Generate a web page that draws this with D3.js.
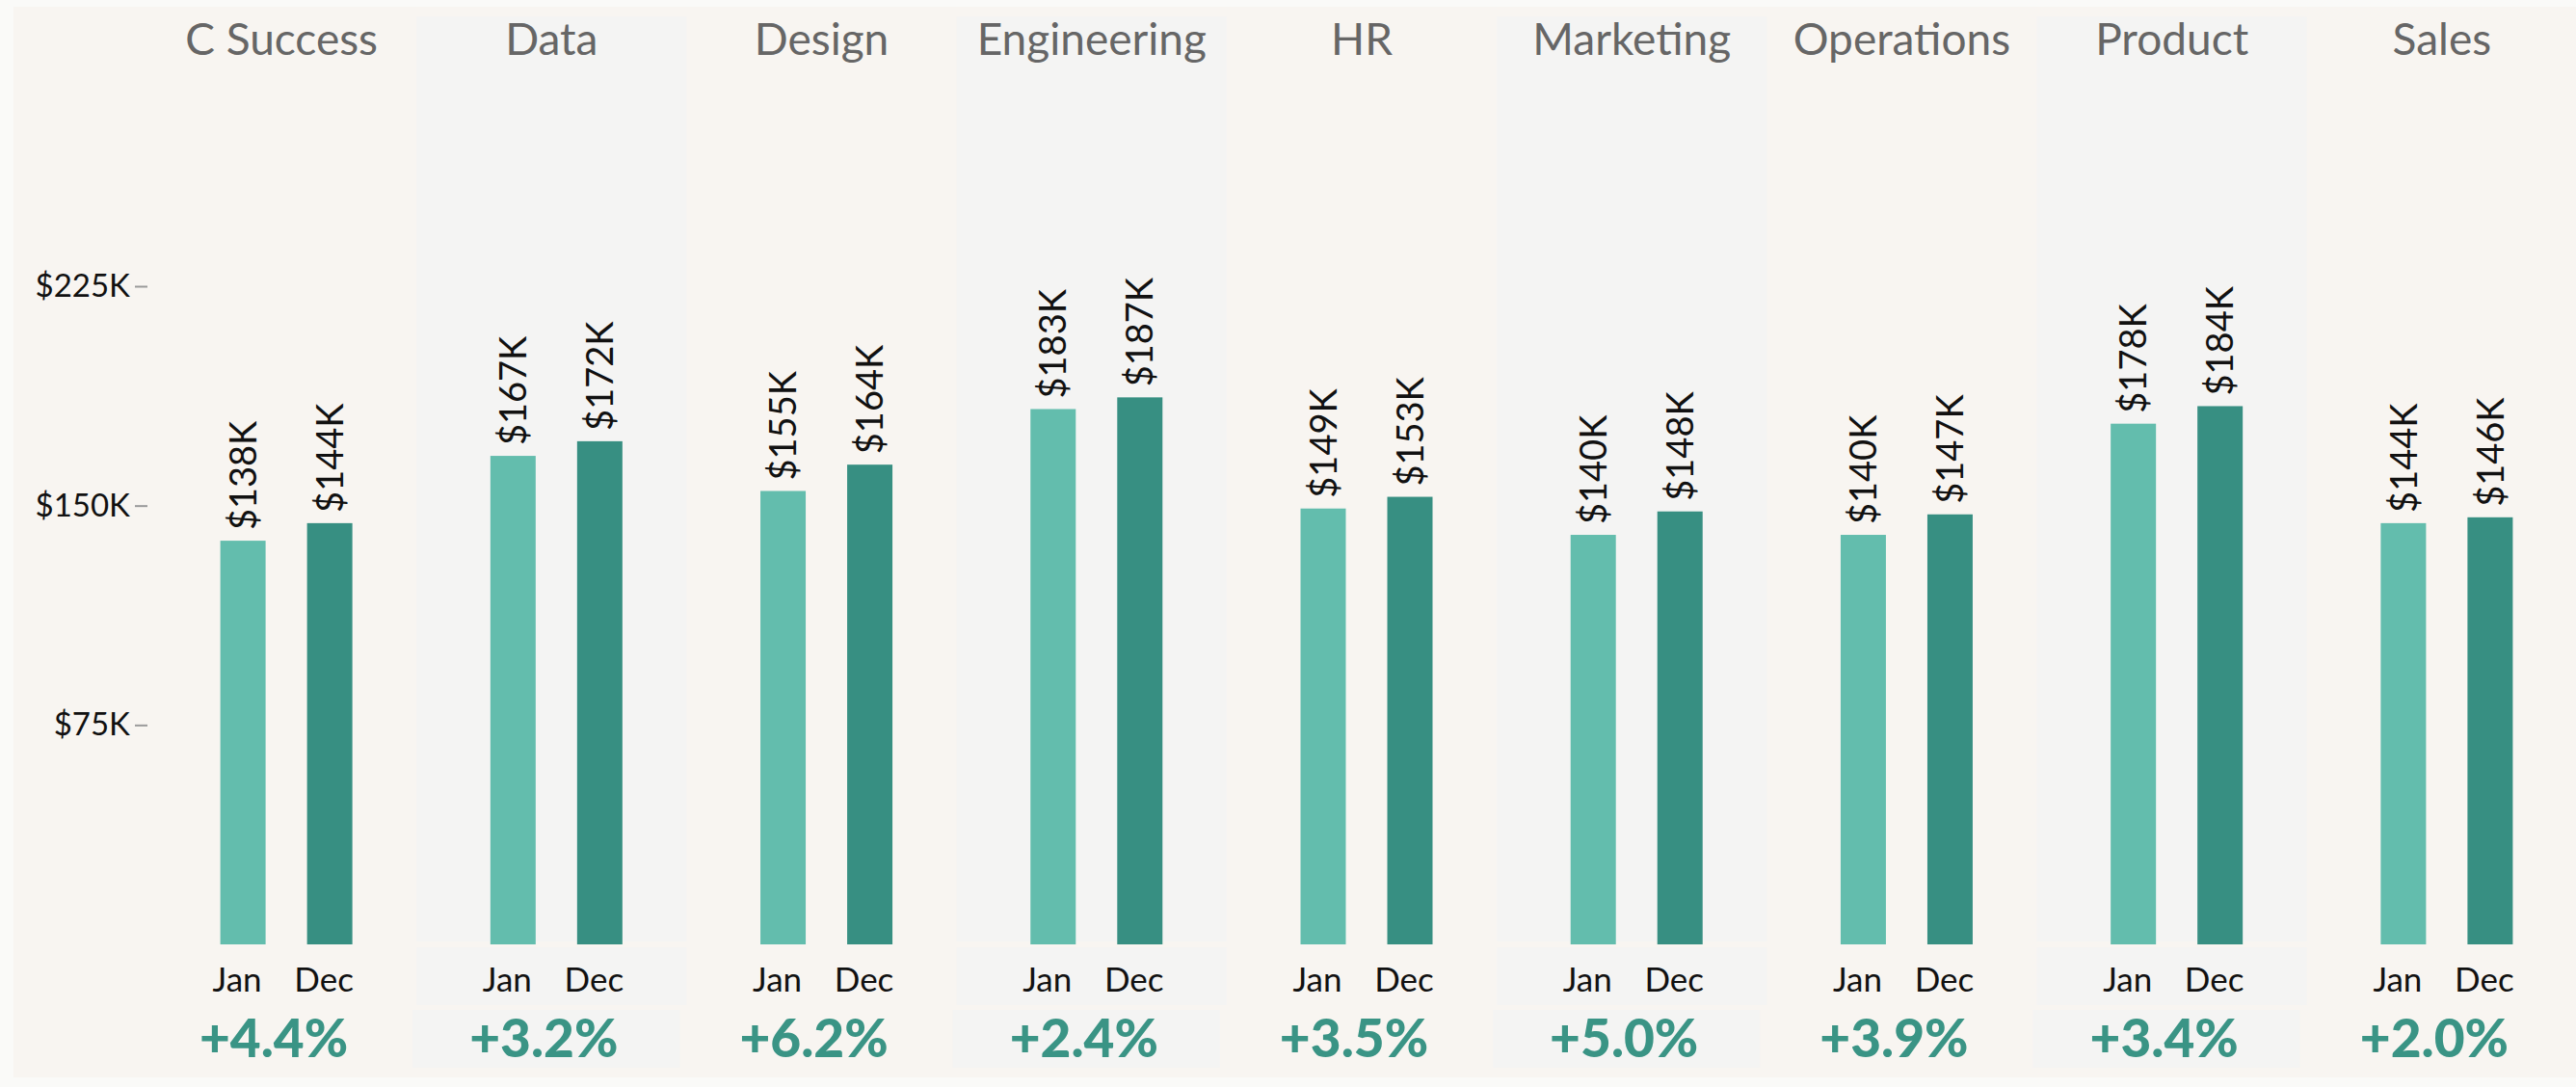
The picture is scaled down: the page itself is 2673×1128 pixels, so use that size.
<!DOCTYPE html>
<html>
<head>
<meta charset="utf-8">
<script src="https://cdn.jsdelivr.net/npm/d3@7"></script>
<style>
  body { margin: 0; background: #fafaf8; }
  svg { display: block; font-family: Lato, "Noto Sans", sans-serif; }
</style>
</head>
<body>
<div id="chart"></div>
<script>
// data (salaries in $K)
var categories = ["C Success", "Data", "Design", "Engineering", "HR", "Marketing", "Operations", "Product", "Sales"];
var months = ["Jan", "Dec"];
var janValues = [138, 167, 155, 183, 149, 140, 140, 178, 144];
var decValues = [144, 172, 164, 187, 153, 148, 147, 184, 146];
var changePct = [4.4, 3.2, 6.2, 2.4, 3.5, 5.0, 3.9, 3.4, 2.0];
var yTicks = [75, 150, 225];

var svgWidth = 2673;
var svgHeight = 1128;

var svg = d3.select("#chart")
    .append("svg")
    .attr("width", svgWidth)
    .attr("height", svgHeight);

// background with a thin lighter frame
svg.append("rect")
    .attr("width", svgWidth).attr("height", svgHeight)
    .attr("fill", "#fafaf8");
svg.append("rect")
    .attr("x", 14).attr("y", 7)
    .attr("width", svgWidth - 14).attr("height", svgHeight - 17)
    .attr("fill", "#f8f5f1");

// scales
var x = d3.scaleBand()
    .domain(categories)
    .range([152, 2674])
    .paddingInner(0);

var xInner = d3.scaleBand()
    .domain(months)
    .range([-63.5, 73.5])
    .paddingInner(0.478);

var y = d3.scaleLinear()
    .domain([0, 225])
    .range([980, 297]);

var rows = categories.map(function(c, i) {
    return { name: c, idx: i, values: [janValues[i], decValues[i]], pct: changePct[i] };
});

// alternate shaded panels
var shaded = rows.filter(function(d) { return d.idx % 2 === 1; });
var panels = svg.append("g").selectAll("g")
    .data(shaded)
    .enter()
    .append("g")
    .attr("fill", "#f4f4f3");
panels.append("rect")
    .attr("x", d => x(d.name))
    .attr("y", 17)
    .attr("width", x.bandwidth())
    .attr("height", 960);
panels.append("rect")
    .attr("x", d => x(d.name))
    .attr("y", 983)
    .attr("width", x.bandwidth())
    .attr("height", 60);
panels.append("rect")
    .attr("x", d => x(d.name) - 4)
    .attr("y", 1048)
    .attr("width", x.bandwidth() - 3)
    .attr("height", 60);

// y axis
var leftAxis = d3.axisLeft(y)
    .tickValues(yTicks)
    .tickSize(13)
    .tickPadding(5)
    .tickFormat(d => "$" + d + "K");

var yAxisG = svg.append("g")
    .attr("transform", "translate(153,0)")
    .call(leftAxis);
yAxisG.select(".domain").remove();
yAxisG.selectAll(".tick line")
    .attr("stroke", "#9a9a9a")
    .attr("stroke-width", 2);
yAxisG.selectAll(".tick text")
    .attr("fill", "#111")
    .style("font-family", "Lato, sans-serif")
    .style("font-size", "33px");

// category titles
svg.append("g").selectAll("text")
    .data(rows)
    .enter()
    .append("text")
    .attr("x", d => x(d.name) + x.bandwidth() / 2)
    .attr("y", 57)
    .attr("text-anchor", "middle")
    .attr("fill", "#666")
    .style("font-size", "46px")
    .text(d => d.name);

// bars
var colors = { Jan: "#63bdad", Dec: "#378f82" };
var groups = svg.append("g").selectAll("g")
    .data(rows)
    .enter()
    .append("g")
    .attr("transform", d => `translate(${x(d.name) + x.bandwidth() / 2},0)`);

var bars = groups.selectAll("g.bar")
    .data(d => months.map((m, j) => ({ month: m, value: d.values[j] })))
    .enter()
    .append("g")
    .attr("class", "bar");

bars.append("rect")
    .attr("x", d => xInner(d.month))
    .attr("y", d => y(d.value))
    .attr("width", xInner.bandwidth())
    .attr("height", d => y(0) - y(d.value))
    .attr("fill", d => colors[d.month]);

// rotated value labels
bars.append("text")
    .attr("transform", d => `translate(${xInner(d.month) + xInner.bandwidth() / 2},${y(d.value) - 11}) rotate(-90)`)
    .attr("dy", "0.36em")
    .attr("fill", "#111")
    .style("font-size", "38px")
    .text(d => "$" + d.value + "K");

// month labels
bars.append("text")
    .attr("x", d => xInner(d.month) + xInner.bandwidth() / 2 - 6)
    .attr("y", 1029)
    .attr("text-anchor", "middle")
    .attr("fill", "#111")
    .style("font-size", "35px")
    .text(d => d.month);

// change labels
groups.append("text")
    .attr("x", -8)
    .attr("y", 1097)
    .attr("text-anchor", "middle")
    .attr("fill", "#3a9485")
    .style("font-size", "55px")
    .style("font-weight", "900")
    .text(d => "+" + d.pct.toFixed(1) + "%");
</script>
</body>
</html>
